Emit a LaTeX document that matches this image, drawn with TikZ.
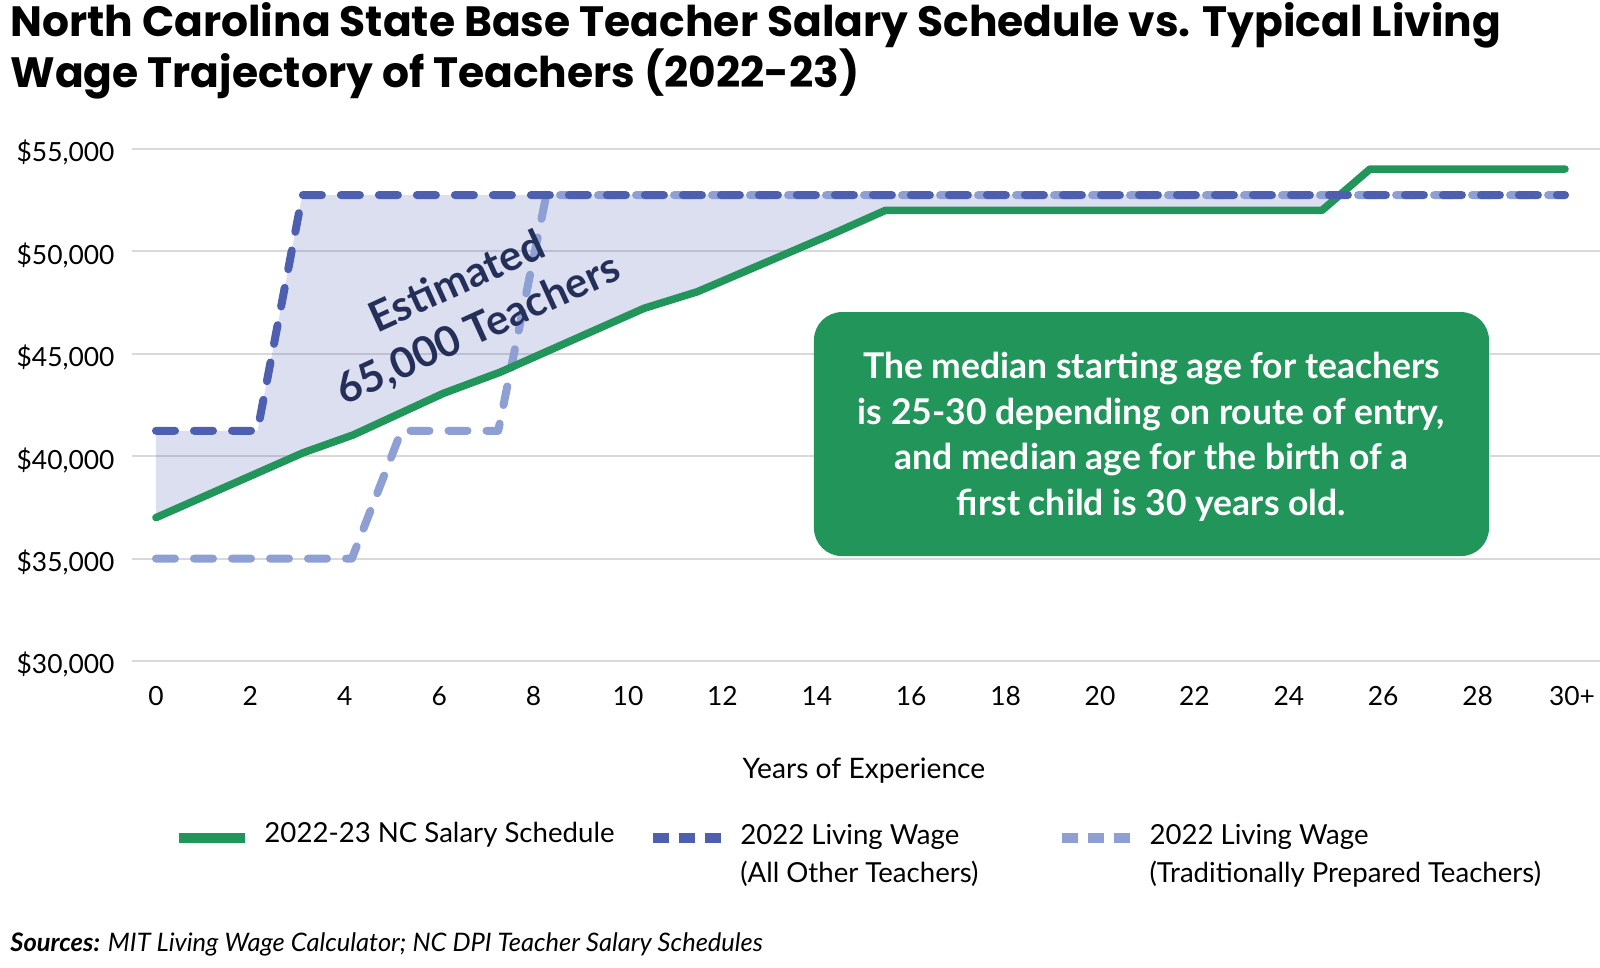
\documentclass[tikz,border=0pt]{standalone}
\usepackage{fontspec}
\setmainfont{Lato}
\newfontfamily\titlefont{Poppins}
\usetikzlibrary{positioning}
\definecolor{salarygreen}{HTML}{22965A}
\definecolor{wagedark}{HTML}{4F5FB0}
\definecolor{wagelight}{HTML}{8E9FD4}
\definecolor{gapnavy}{HTML}{243059}
\definecolor{gridgray}{HTML}{D9D9D9}
\tikzset{
  gridline/.style={gridgray, line width=1pt},
  salaryline/.style={salarygreen, line width=3.8pt, line cap=round, line join=round},
  darkwage/.style={wagedark, line width=4pt, line cap=round, line join=round, dash pattern=on 9.5pt off 9.5pt},
  lightwage/.style={wagelight, line width=4pt, line cap=round, line join=round, dash pattern=on 9.5pt off 9.5pt},
  ticklabel/.style={inner sep=0pt, font=\fontsize{13.2}{16}\selectfont},
  legendtext/.style={inner sep=0pt, anchor=west, align=left, font=\fontsize{13.8}{18.9}\selectfont},
  titletext/.style={inner sep=0pt, anchor=base west, font=\titlefont\bfseries\fontsize{21.2}{25}\selectfont},
  notebox/.style={fill=salarygreen, rounded corners=14pt, minimum width=337.5pt, minimum height=122pt, inner sep=0pt},
  notetext/.style={inner sep=0pt, text=white, align=center, font=\bfseries\fontsize{17.75}{22.7}\selectfont},
}
\begin{document}
\begin{tikzpicture}[x=23.6pt, y=10.24pt]
  \useasboundingbox (-3.305,15.059) rectangle (30.593,62.275);
  % title
  \node[titletext] (title1) at (-3.093,60.47) {North Carolina State Base Teacher Salary Schedule vs. Typical Living};
  \node[titletext] (title2) at (-3.093,57.98) {Wage Trajectory of Teachers (2022-23)};
  % grid and axis labels
  \foreach \k in {30,35,...,55} {
    \draw[gridline] (-0.51,\k) -- (30.59,\k);
    \node[ticklabel, anchor=base east] (ylab\k) at (-0.87,\k-0.63) {\$\k,000};
  }
  \foreach \yr in {0,2,...,28}
    \node[ticklabel, anchor=base] (xlab\yr) at (\yr,27.85) {\yr};
  \node[ticklabel, anchor=base] (xlab30) at (30,27.85) {30+};
  \node[ticklabel, font=\fontsize{14.1}{17}\selectfont] (xtitle) at (15,24.67) {Years of Experience};
  % gap between living wage and salary
  \fill[wagedark, opacity=0.2] (0,41.24) -- (2.15,41.24) -- (3.1,52.75) -- (25.08,52.75)
    -- (24.7,52.0) -- (15.45,52.0) -- (14.36,50.88) -- (11.47,48.03) -- (10.34,47.22)
    -- (7.29,44.1) -- (6.09,43.07) -- (4.18,41.04) -- (3.12,40.17) -- (0,37.0) -- cycle;
  % lines
  \draw[lightwage] (0,35.0) -- (4.15,35.0) -- (5.2,41.24) -- (7.25,41.24) -- (8.27,52.75) -- (29.85,52.75);
  \draw[salaryline] (0,37.0) -- (3.12,40.17) -- (4.18,41.04) -- (6.09,43.07) -- (7.29,44.1)
    -- (10.34,47.22) -- (11.47,48.03) -- (14.36,50.88) -- (15.45,52.0) -- (24.7,52.0)
    -- (25.72,54.02) -- (29.85,54.02);
  \draw[darkwage] (0,41.24) -- (2.15,41.24) -- (3.1,52.75) -- (29.85,52.75);
  % annotations
  \node[text=gapnavy, rotate=24.5, align=center, inner sep=0pt,
    font=\bfseries\fontsize{21}{26}\selectfont] (gaplabel) at (6.61,47.3) {Estimated\\65,000 Teachers};
  \node[notebox] (note) at (21.09,41.08) {};
  \node[notetext] (notetxt) at ([yshift=-1.3pt]note.center) {The median starting age for teachers\\is 25-30 depending on route of entry,\\and median age for the birth of a\\first child is 30 years old.};
  % legend
  \draw[salarygreen, line width=5pt] (0.48,21.36) -- (1.886,21.36);
  \node[legendtext] (leg1) at (2.29,21.5) {2022-23 NC Salary Schedule};
  \draw[wagedark, line width=5pt, dash pattern=on 8pt off 5pt] (10.53,21.36) -- (11.97,21.36);
  \node[legendtext] (leg2) at (12.37,20.5) {2022 Living Wage\\(All Other Teachers)};
  \draw[wagelight, line width=5pt, dash pattern=on 8pt off 5pt] (19.19,21.36) -- (20.64,21.36);
  \node[legendtext] (leg3) at (21.04,20.5) {2022 Living Wage\\(Traditionally Prepared Teachers)};
  % source line
  \node[inner sep=0pt, anchor=west, font=\itshape\fontsize{12.75}{15}\selectfont] (sources) at (-3.093,16.18)
    {\textbf{Sources:} MIT Living Wage Calculator; NC DPI Teacher Salary Schedules};
\end{tikzpicture}
\end{document}
